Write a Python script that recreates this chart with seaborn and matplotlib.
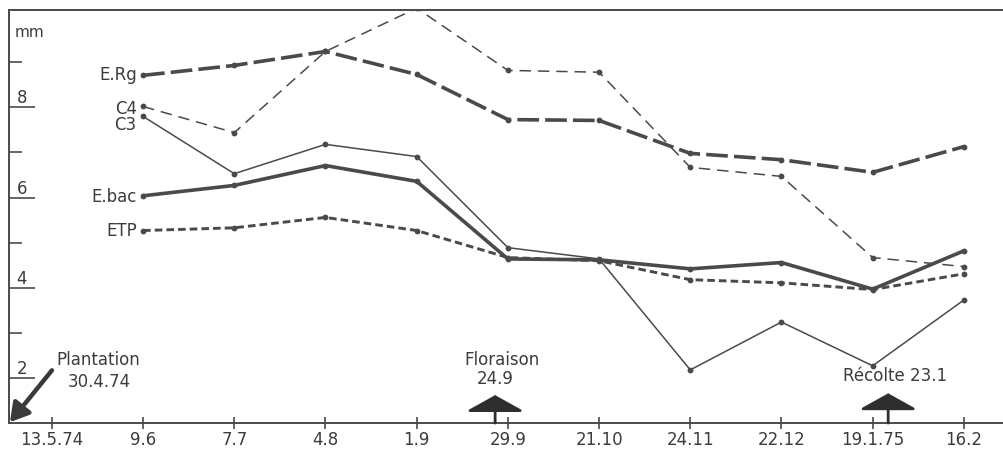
import matplotlib
matplotlib.use("Agg")
import matplotlib.pyplot as plt
import seaborn as sns
import pandas as pd

# ---- data ----
dates = ["13.5.74", "9.6", "7.7", "4.8", "1.9", "29.9", "21.10", "24.11", "22.12", "19.1.75", "16.2"]
mesure_dates = dates[1:]
e_rg = [8.71, 8.93, 9.24, 8.73, 7.73, 7.71, 6.98, 6.84, 6.56, 7.13]
c4 = [8.02, 7.44, 9.24, 10.2, 8.82, 8.78, 6.67, 6.47, 4.67, 4.47]
c3 = [7.80, 6.53, 7.18, 6.91, 4.89, 4.64, 2.18, 3.24, 2.27, 3.73]
e_bac = [6.04, 6.27, 6.71, 6.36, 4.64, 4.62, 4.42, 4.56, 3.97, 4.82]
etp = [5.27, 5.33, 5.56, 5.27, 4.67, 4.60, 4.18, 4.11, 3.96, 4.31]
series_names = ["E.Rg", "C4", "C3", "E.bac", "ETP"]
y_major = [2, 4, 6, 8]
y_minor = [3, 5, 7, 9]

sns.set_theme(style="white")
plt.rcParams["font.family"] = ["DejaVu Sans"]

INK = "#4a4a4a"
TXT = "#3c3c3c"

fig = plt.figure(figsize=(10.04, 4.53), dpi=100)
ax = fig.add_axes([0.009, 0.066, 0.991, 0.912])

pos = {d: i for i, d in enumerate(dates)}
xs = [pos[d] for d in mesure_dates]

styles = {
    "E.Rg": dict(lw=2.6, ls=(0, (6.0, 1.7))),
    "C4": dict(lw=1.1, ls=(0, (7.5, 4.5))),
    "C3": dict(lw=1.1, ls="-"),
    "E.bac": dict(lw=2.6, ls="-"),
    "ETP": dict(lw=2.1, ls=(0, (2.6, 1.4))),
}
values = {"E.Rg": e_rg, "C4": c4, "C3": c3, "E.bac": e_bac, "ETP": etp}

for name in series_names:
    df = pd.DataFrame({"x": xs, "y": values[name]})
    st = styles[name]
    sns.lineplot(data=df, x="x", y="y", ax=ax, color=INK, linewidth=st["lw"],
                 linestyle=st["ls"], marker="o", markersize=4.2,
                 markeredgewidth=0, markerfacecolor=INK, sort=False,
                 errorbar=None)

# series labels at the first point
label_offsets = {"E.Rg": 0.0, "C4": -0.05, "C3": -0.2, "E.bac": -0.03, "ETP": 0.0}
for name in series_names:
    ax.text(xs[0] - 0.07, values[name][0] + label_offsets[name], name,
            ha="right", va="center", fontsize=12, color=TXT)

ax.set_xlim(-0.47, 10.44)
ax.set_ylim(1.0, 10.16)
ax.set_xticks(range(len(dates)))
ax.set_xticklabels(dates)
ax.set_yticks(y_major)
ax.set_yticklabels([str(v) for v in y_major])
ax.set_yticks(y_minor, minor=True)
ax.set_xlabel("")
ax.set_ylabel("")

ax.tick_params(axis="x", direction="inout", length=8, width=1.2, color=INK,
               labelsize=12, labelcolor=TXT, pad=2, bottom=True)
ax.tick_params(axis="y", which="major", direction="in", length=19, width=1.2,
               color=INK, labelsize=12, labelcolor=TXT, pad=-13, left=True)
ax.tick_params(axis="y", which="minor", direction="in", length=9, width=1.2,
               color=INK, left=True)
for lab in ax.get_yticklabels():
    lab.set_va("bottom")

for side in ["left", "bottom", "top"]:
    ax.spines[side].set_visible(True)
    ax.spines[side].set_color(INK)
    ax.spines[side].set_linewidth(1.4)
ax.spines["right"].set_visible(False)

ax.text(0.006, 0.945, "mm", transform=ax.transAxes, fontsize=11,
        color=TXT, ha="left", va="center")

# annotations
ax.text(0.05, 2.40, "Plantation", fontsize=12, color=TXT, ha="left", va="center")
ax.text(0.17, 1.92, "30.4.74", fontsize=12, color=TXT, ha="left", va="center")
ax.annotate("", xy=(-0.46, 1.02), xytext=(0.0, 2.17),
            arrowprops=dict(arrowstyle="-|>,head_length=1.1,head_width=0.65",
                            lw=3.2, color="#3a3a3a", shrinkA=0, shrinkB=0,
                            mutation_scale=10), annotation_clip=False)

ax.text(4.93, 2.40, "Floraison", fontsize=12, color=TXT, ha="center", va="center")
ax.text(4.86, 1.98, "24.9", fontsize=12, color=TXT, ha="center", va="center")
ax.annotate("", xy=(4.86, 1.62), xytext=(4.86, 1.0),
            arrowprops=dict(arrowstyle="-|>,head_length=1.0,head_width=1.8",
                            lw=2.0, color="#2e2e2e", shrinkA=0, shrinkB=0,
                            mutation_scale=10), annotation_clip=False)

ax.text(9.24, 2.05, "Récolte 23.1", fontsize=12, color=TXT, ha="center", va="center")
ax.annotate("", xy=(9.17, 1.66), xytext=(9.17, 1.0),
            arrowprops=dict(arrowstyle="-|>,head_length=1.0,head_width=1.8",
                            lw=2.0, color="#2e2e2e", shrinkA=0, shrinkB=0,
                            mutation_scale=10), annotation_clip=False)

fig.savefig("out.png", dpi=100, facecolor="white")
